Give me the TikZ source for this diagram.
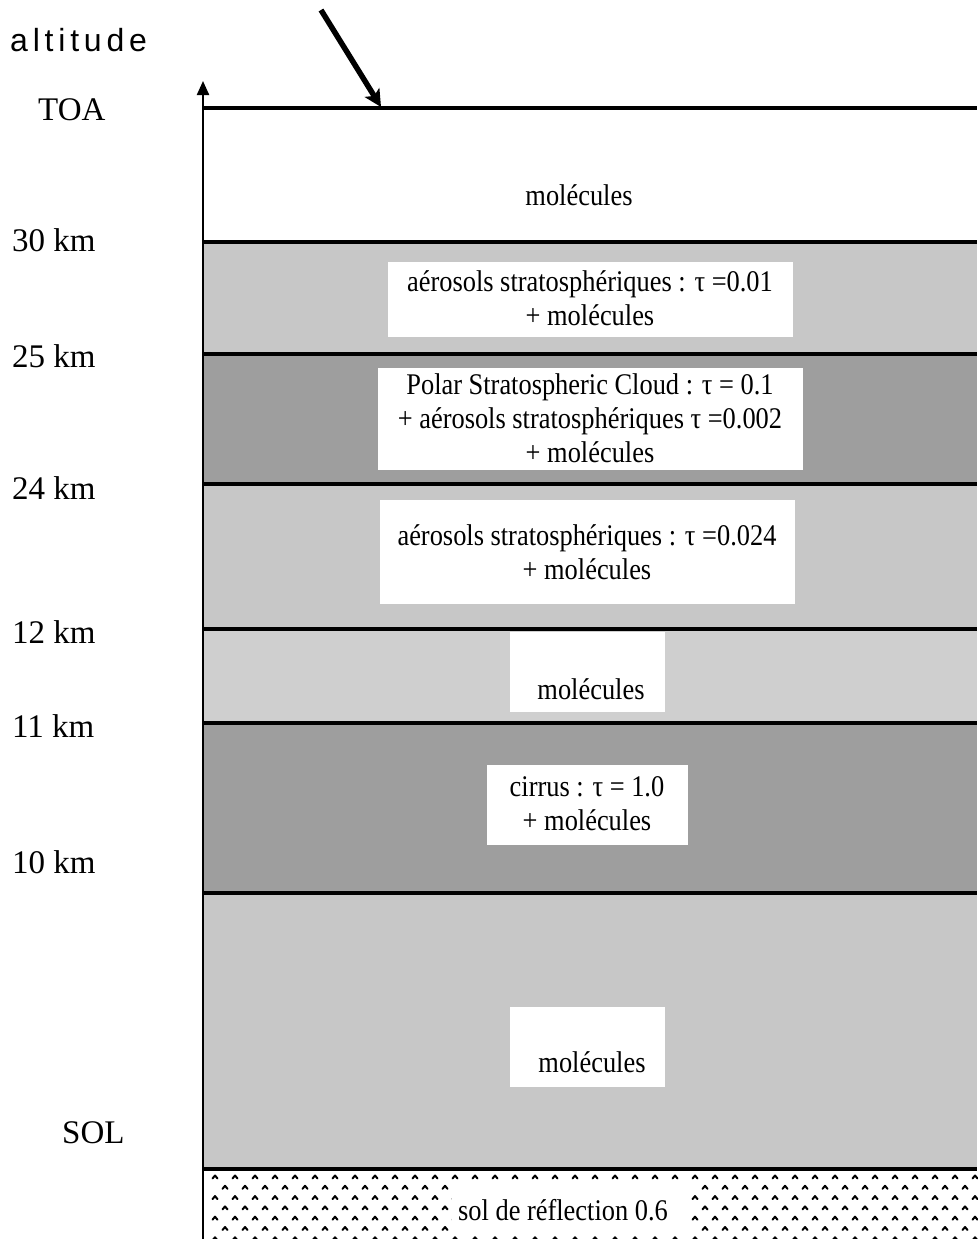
\documentclass[tikz,border=0pt]{standalone}
\usepackage{fontspec}
\setmainfont{Liberation Serif}
\newfontfamily\altfont[LetterSpace=15]{Liberation Sans}
\newfontfamily\condfont[FakeStretch=0.88]{Liberation Serif}
\usetikzlibrary{arrows.meta}
\tikzset{
  lightlayer/.style={fill=black!22},
  darklayer/.style={fill=black!38},
  boundary/.style={line width=3.2pt},
  axisline/.style={line width=2.2pt,-{Triangle[length=14pt,width=12pt]}},
  sunray/.style={line width=5.5pt,-{Stealth[length=17pt,width=17pt,inset=4pt]}},
  altlabel/.style={anchor=west,inner sep=0pt,font=\fontsize{33}{36}\selectfont},
  whitebox/.style={fill=white,draw=none,inner sep=0pt},
  layertext/.style={inner sep=0pt,align=center,font=\condfont\fontsize{30}{34}\selectfont},
  chevron/.style={line width=2pt,line cap=round,line join=round}
}
\begin{document}
\begin{tikzpicture}[x=1pt,y=-1pt]
\useasboundingbox (0,0) rectangle (977,1239);
% layers
\fill[lightlayer] (203,242) rectangle (977,354);
\fill[darklayer]  (203,354) rectangle (977,484);
\fill[lightlayer] (203,484) rectangle (977,629);
\fill[lightlayer,fill=black!19] (203,629) rectangle (977,723);
\fill[darklayer]  (203,723) rectangle (977,893);
\fill[lightlayer] (203,893) rectangle (977,1169);
% ground chevrons
\foreach \i in {0,...,6}{
  \pgfmathsetmacro{\yy}{1177+10.3*\i}
  \pgfmathsetmacro{\off}{mod(\i,2)*10}
  \foreach \k in {0,...,38}{
    \pgfmathsetmacro{\xx}{215+\off+20*\k}
    \draw[chevron] (\xx-2.5,\yy+1.5) -- (\xx,\yy-1.5) -- (\xx+2.5,\yy+1.5);
  }
}
% white boxes
\node[whitebox,minimum width=405pt,minimum height=75pt] (box1) at (590,299.5) {};
\node[whitebox,minimum width=425pt,minimum height=102pt] (box2) at (590.5,419) {};
\node[whitebox,minimum width=415pt,minimum height=104pt] (box3) at (587.5,552) {};
\node[whitebox,minimum width=155pt,minimum height=80pt] (box4) at (587.5,672) {};
\node[whitebox,minimum width=201pt,minimum height=80pt] (box5) at (587.5,805) {};
\node[whitebox,minimum width=155pt,minimum height=80pt] (box6) at (587.5,1047) {};
\node[whitebox,minimum width=238pt,minimum height=47pt] (box7) at (571,1207) {};
% boundaries
\draw[boundary] (203,108) -- (977,108);
\foreach \yy in {242,354,484,629,723,893,1169}{
  \draw[boundary] (203,\yy) -- (977,\yy);
}
% axis
\coordinate (axbot) at (203,1239);
\coordinate (axtop) at (203,81);
\draw[axisline] (axbot) -- (axtop);
% incoming radiation
\coordinate (sunA) at (321,10);
\coordinate (sunB) at (381,107);
\draw[sunray] (sunA) -- (sunB);
% left labels
\node[anchor=west,inner sep=0pt,font=\altfont\fontsize{32}{34}\selectfont] (altitude) at (10,40) {altitude};
\node[altlabel] (toa) at (38,110) {TOA};
\node[altlabel] (l30) at (12,240) {30 km};
\node[altlabel] (l25) at (12,356) {25 km};
\node[altlabel] (l24) at (12,488) {24 km};
\node[altlabel] (l12) at (12,632) {12 km};
\node[altlabel] (l11) at (12,726) {11 km};
\node[altlabel] (l10) at (12,862) {10 km};
\node[altlabel] (sol) at (62,1133) {SOL};
% layer texts
\node[layertext] (t0) at (579,195) {molécules};
\node[layertext] (t1) at (590,298) {aérosols stratosphériques : τ =0.01\\+ molécules};
\node[layertext] (t2) at (590,418) {Polar Stratospheric Cloud : τ = 0.1\\+ aérosols stratosphériques τ =0.002\\+ molécules};
\node[layertext] (t3) at (587,552) {aérosols stratosphériques : τ =0.024\\+ molécules};
\node[layertext] (t4) at (591,689) {molécules};
\node[layertext] (t5) at (587,804) {cirrus : τ = 1.0\\+ molécules};
\node[layertext] (t6) at (592,1062) {molécules};
\node[layertext] (t7) at (563,1210) {sol de réflection 0.6};
\end{tikzpicture}
\end{document}
